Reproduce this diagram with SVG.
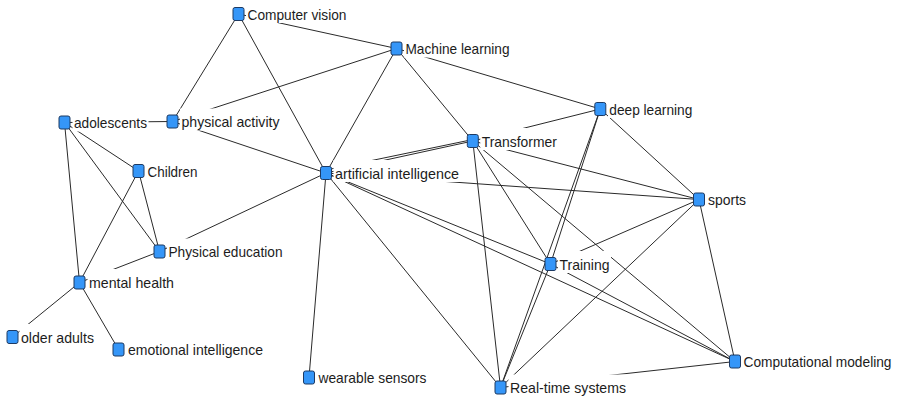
<svg xmlns="http://www.w3.org/2000/svg" width="899" height="397" viewBox="0 0 899 397">
  <style>
    .bg { fill: #ffffff; }
    .edge { stroke: #2a2a2a; stroke-width: 1; fill: none; }
    .sq { fill: #3596f8; stroke: #1d3a63; stroke-width: 1; }
    .lblbg { fill: #ffffff; }
    .lbl { font-family: "Liberation Sans", Arial, sans-serif; font-size: 15px; fill: #1c1c1c; }
    .lbl.tight { font-size: 14.5px; }
  </style>
  <rect class="bg" x="0" y="0" width="899" height="397"/>

  <!-- connectors -->
  <g id="connectors">
    <line class="edge" x1="238.5" y1="14" x2="172.5" y2="121.5"/>
    <line class="edge" x1="238.5" y1="14" x2="326" y2="173"/>
    <line class="edge" x1="238.5" y1="14" x2="396.5" y2="48.5"/>
    <line class="edge" x1="396.5" y1="48.5" x2="172.5" y2="121.5"/>
    <line class="edge" x1="396.5" y1="48.5" x2="326" y2="173"/>
    <line class="edge" x1="396.5" y1="48.5" x2="472.8" y2="141"/>
    <line class="edge" x1="396.5" y1="48.5" x2="600.3" y2="109"/>
    <line class="edge" x1="64.5" y1="122.5" x2="172.5" y2="121.5"/>
    <line class="edge" x1="64.5" y1="122.5" x2="138.5" y2="171"/>
    <line class="edge" x1="64.5" y1="122.5" x2="159.5" y2="251.5"/>
    <line class="edge" x1="64.5" y1="122.5" x2="79.5" y2="282.5"/>
    <line class="edge" x1="138.5" y1="171" x2="159.5" y2="251.5"/>
    <line class="edge" x1="138.5" y1="171" x2="79.5" y2="282.5"/>
    <line class="edge" x1="159.5" y1="251.5" x2="79.5" y2="282.5"/>
    <line class="edge" x1="172.5" y1="121.5" x2="326" y2="173"/>
    <line class="edge" x1="326" y1="173" x2="159.5" y2="251.5"/>
    <line class="edge" x1="79.5" y1="282.5" x2="12.5" y2="337"/>
    <line class="edge" x1="79.5" y1="282.5" x2="118.5" y2="349.5"/>
    <line class="edge" x1="472.8" y1="141" x2="326" y2="173"/>
    <line class="edge" x1="472.8" y1="139.5" x2="326" y2="170"/>
    <line class="edge" x1="326" y1="173" x2="699" y2="199.5"/>
    <line class="edge" x1="326" y1="173" x2="550.5" y2="264"/>
    <line class="edge" x1="326" y1="173" x2="735" y2="361.5"/>
    <line class="edge" x1="326" y1="173" x2="500.5" y2="387.5"/>
    <line class="edge" x1="326" y1="173" x2="309" y2="377.5"/>
    <line class="edge" x1="472.8" y1="141" x2="600.3" y2="109"/>
    <line class="edge" x1="472.8" y1="141" x2="699" y2="199.5"/>
    <line class="edge" x1="472.8" y1="141" x2="550.5" y2="264"/>
    <line class="edge" x1="472.8" y1="141" x2="500.5" y2="387.5"/>
    <line class="edge" x1="472.8" y1="141" x2="735" y2="361.5"/>
    <line class="edge" x1="600.3" y1="109" x2="699" y2="199.5"/>
    <line class="edge" x1="600.3" y1="109" x2="550.5" y2="264"/>
    <line class="edge" x1="600.3" y1="109" x2="500.5" y2="387.5"/>
    <line class="edge" x1="699" y1="199.5" x2="550.5" y2="264"/>
    <line class="edge" x1="699" y1="199.5" x2="500.5" y2="387.5"/>
    <line class="edge" x1="699" y1="199.5" x2="735" y2="361.5"/>
    <line class="edge" x1="550.5" y1="264" x2="500.5" y2="387.5"/>
    <line class="edge" x1="550.5" y1="264" x2="735" y2="361.5"/>
    <line class="edge" x1="500.5" y1="387.5" x2="735" y2="361.5"/>
  </g>

  <!-- nodes -->
  <g id="node-computer-vision">
    <rect class="lblbg" x="246" y="1" width="102" height="22"/>
    <rect class="sq" x="233" y="7.5" width="11" height="13" rx="2"/>
    <text class="lbl" x="247.5" y="19.5" textLength="99" lengthAdjust="spacingAndGlyphs">Computer vision</text>
  </g>
  <g id="node-machine-learning">
    <rect class="lblbg" x="404" y="35.5" width="107" height="22"/>
    <rect class="sq" x="391" y="42" width="11" height="13" rx="2"/>
    <text class="lbl" x="405.5" y="54" textLength="104" lengthAdjust="spacingAndGlyphs">Machine learning</text>
  </g>
  <g id="node-deep-learning">
    <rect class="lblbg" x="608" y="96" width="86" height="22"/>
    <rect class="sq" x="594.8" y="102.5" width="11" height="13" rx="2"/>
    <text class="lbl" x="609.3" y="114.5" textLength="83" lengthAdjust="spacingAndGlyphs">deep learning</text>
  </g>
  <g id="node-adolescents">
    <rect class="lblbg" x="72.5" y="109.5" width="76" height="22"/>
    <rect class="sq" x="59" y="116" width="11" height="13" rx="2"/>
    <text class="lbl" x="74" y="128" textLength="73" lengthAdjust="spacingAndGlyphs">adolescents</text>
  </g>
  <g id="node-physical-activity">
    <rect class="lblbg" x="180" y="108.5" width="101" height="22"/>
    <rect class="sq" x="167" y="115" width="11" height="13" rx="2"/>
    <text class="lbl" x="181.5" y="127" textLength="98" lengthAdjust="spacingAndGlyphs">physical activity</text>
  </g>
  <g id="node-transformer">
    <rect class="lblbg" x="480.3" y="128" width="78" height="22"/>
    <rect class="sq" x="467.3" y="134.5" width="11" height="13" rx="2"/>
    <text class="lbl" x="481.8" y="146.5" textLength="75" lengthAdjust="spacingAndGlyphs">Transformer</text>
  </g>
  <g id="node-children">
    <rect class="lblbg" x="146" y="158" width="53" height="22"/>
    <rect class="sq" x="133" y="164.5" width="11" height="13" rx="2"/>
    <text class="lbl" x="147.5" y="176.5" textLength="50" lengthAdjust="spacingAndGlyphs">Children</text>
  </g>
  <g id="node-artificial-intelligence">
    <rect class="lblbg" x="333.5" y="160" width="127" height="22"/>
    <rect class="sq" x="320.5" y="166.5" width="11" height="13" rx="2"/>
    <text class="lbl" x="335" y="178.5" textLength="124" lengthAdjust="spacingAndGlyphs">artificial intelligence</text>
  </g>
  <g id="node-sports">
    <rect class="lblbg" x="706.5" y="186.5" width="41" height="22"/>
    <rect class="sq" x="693.5" y="193" width="11" height="13" rx="2"/>
    <text class="lbl" x="708" y="205" textLength="38" lengthAdjust="spacingAndGlyphs">sports</text>
  </g>
  <g id="node-physical-education">
    <rect class="lblbg" x="167" y="238.5" width="117" height="22"/>
    <rect class="sq" x="154" y="245" width="11" height="13" rx="2"/>
    <text class="lbl" x="168.5" y="257" textLength="114" lengthAdjust="spacingAndGlyphs">Physical education</text>
  </g>
  <g id="node-training">
    <rect class="lblbg" x="558" y="251" width="53" height="22"/>
    <rect class="sq" x="545" y="257.5" width="11" height="13" rx="2"/>
    <text class="lbl" x="559.5" y="269.5" textLength="50" lengthAdjust="spacingAndGlyphs">Training</text>
  </g>
  <g id="node-mental-health">
    <rect class="lblbg" x="87.5" y="269" width="88" height="22"/>
    <rect class="sq" x="74" y="276" width="11" height="13" rx="2"/>
    <text class="lbl" x="89" y="288" textLength="85" lengthAdjust="spacingAndGlyphs">mental health</text>
  </g>
  <g id="node-older-adults">
    <rect class="lblbg" x="19.5" y="324" width="76" height="22"/>
    <rect class="sq" x="7" y="330.5" width="11" height="13" rx="2"/>
    <text class="lbl" x="21" y="342.5" textLength="73" lengthAdjust="spacingAndGlyphs">older adults</text>
  </g>
  <g id="node-emotional-intelligence">
    <rect class="lblbg" x="126.5" y="336.5" width="138" height="22"/>
    <rect class="sq" x="113" y="343" width="11" height="13" rx="2"/>
    <text class="lbl" x="128" y="355" textLength="135" lengthAdjust="spacingAndGlyphs">emotional intelligence</text>
  </g>
  <g id="node-computational-modeling">
    <rect class="lblbg" x="742.5" y="348.5" width="152" height="22"/>
    <rect class="sq" x="729.5" y="355" width="11" height="13" rx="2"/>
    <text class="lbl tight" x="743.5" y="367" textLength="148" lengthAdjust="spacingAndGlyphs">Computational modeling</text>
  </g>
  <g id="node-wearable-sensors">
    <rect class="lblbg" x="317" y="364.5" width="111" height="22"/>
    <rect class="sq" x="303.5" y="371" width="11" height="13" rx="2"/>
    <text class="lbl" x="318.5" y="383" textLength="108" lengthAdjust="spacingAndGlyphs">wearable sensors</text>
  </g>
  <g id="node-real-time-systems">
    <rect class="lblbg" x="508.5" y="374.5" width="119" height="22"/>
    <rect class="sq" x="495" y="381" width="11" height="13" rx="2"/>
    <text class="lbl" x="510" y="393" textLength="116" lengthAdjust="spacingAndGlyphs">Real-time systems</text>
  </g>
</svg>
